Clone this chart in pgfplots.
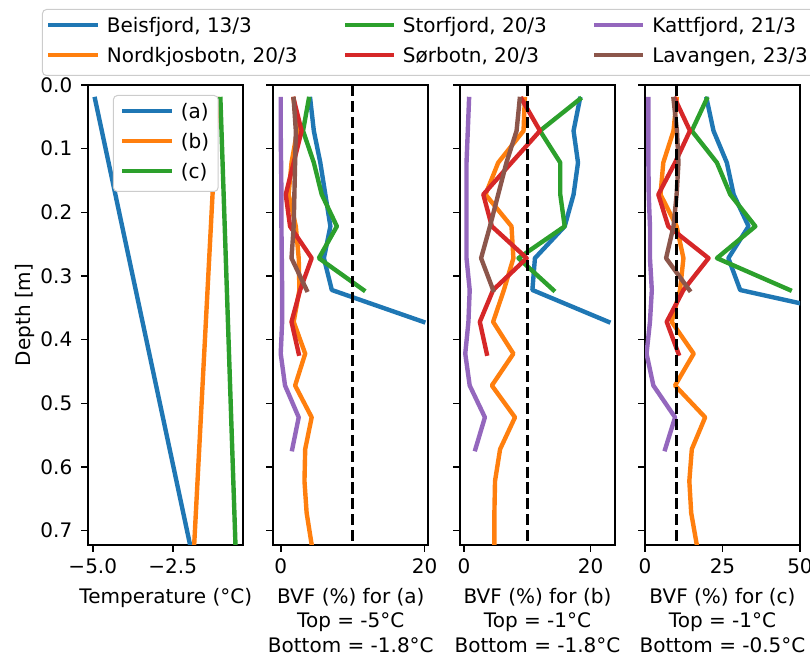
\documentclass[border=0pt]{standalone}
\usepackage{fontspec}
\setmainfont{DejaVu Sans}
\usepackage{pgfplots}
\pgfplotsset{compat=1.18}
\definecolor{c0}{HTML}{1F77B4}
\definecolor{c1}{HTML}{FF7F0E}
\definecolor{c2}{HTML}{2CA02C}
\definecolor{c3}{HTML}{D62728}
\definecolor{c4}{HTML}{9467BD}
\definecolor{c5}{HTML}{8C564B}
\pgfplotsset{
  panel/.style={
    scale only axis, width=77.5pt, height=230pt,
    anchor=south west,
    y dir=reverse, ymin=0, ymax=0.7225,
    ytick={0,0.1,0.2,0.3,0.4,0.5,0.6,0.7},
    yticklabels={},
    tick align=outside, xtick pos=left, ytick pos=left,
    major tick length=3.5pt,
    tick style={black, line width=0.8pt},
    axis line style={line width=0.8pt},
    xticklabel style={anchor=north, inner sep=0pt, yshift=-3pt},
    yticklabel style={anchor=east, inner sep=0pt, xshift=-4.3pt},
    every axis x label/.style={at={(axis description cs:0.5,0)}, anchor=north, inner sep=0pt, yshift=-21.4pt, align=center},
    every axis y label/.style={at={(axis description cs:-0.3761,0.5)}, rotate=90, anchor=base, inner sep=0pt},
    legend cell align=left,
  },
  dline/.style={line width=2.2pt, line join=round, line cap=rect},
  mylegend/.style={
    draw=black!20, line width=0.5pt, fill=white, rounded corners=2pt,
    inner xsep=3pt, inner ysep=4pt,
    nodes={inner sep=0pt, text height=7.6pt, text depth=2.4pt},
    row sep=5pt,
    /tikz/every odd column/.append style={column sep=4.5pt},
    /tikz/every even column/.append style={column sep=23.5pt},
  },
  legend image code/.code={\draw[#1] (0pt,1.2pt) -- (22.5pt,1.2pt);},
}
\begin{document}
\fontsize{10}{12.25}\selectfont
\begin{tikzpicture}
\path[use as bounding box] (0,0) rectangle (405pt,331pt);
% Panel 1: temperature
\begin{axis}[panel, at={(44.15pt,58.5pt)},
  xmin=-5.14, xmax=-0.295,
  xtick={-5,-2.5}, xticklabels={−5.0,−2.5},
  yticklabels={0.0,0.1,0.2,0.3,0.4,0.5,0.6,0.7},
  xlabel={Temperature (°C)}, ylabel={Depth [m]},
  legend style={mylegend, inner xsep=4.5pt, at={(axis description cs:0.5,1)}, anchor=north, yshift=-5pt},
]
\addplot[c0, dline] coordinates {(-4.93,0.022) (-1.96,0.722)};
\addlegendentry{(a)}
\addplot[c1, dline] coordinates {(-1.10,0.022) (-1.83,0.722)};
\addlegendentry{(b)}
\addplot[c2, dline] coordinates {(-1.01,0.022) (-0.54,0.722)};
\addlegendentry{(c)}
\end{axis}
% Panel 2: BVF (a)
\begin{axis}[panel, at={(136.65pt,58.5pt)},
  xmin=-1.03, xmax=20.5,
  xtick={0,20}, xticklabels={0,20},
  xlabel={BVF (\%) for (a)\\Top = -5°C\\Bottom = -1.8°C},
  legend columns=3,
  legend style={mylegend, at={(axis description cs:-1.4923,1.1652)}, anchor=north west},
]
\addlegendimage{c0, dline}\addlegendentry{Beisfjord, 13/3}
\addlegendimage{c2, dline}\addlegendentry{Storfjord, 20/3}
\addlegendimage{c4, dline}\addlegendentry{Kattfjord, 21/3}
\addlegendimage{c1, dline}\addlegendentry{Nordkjosbotn, 20/3}
\addlegendimage{c3, dline}\addlegendentry{Sørbotn, 20/3}
\addlegendimage{c5, dline}\addlegendentry{Lavangen, 23/3}
\addplot[c0, dline, forget plot] coordinates {(4.1,0.022) (4.6,0.072) (5.5,0.122) (6.2,0.172) (6.9,0.222) (6.0,0.272) (7.1,0.322) (19.8,0.372)};
\addplot[c1, dline, forget plot] coordinates {(1.8,0.022) (2.3,0.072) (1.5,0.122) (1.1,0.172) (2.1,0.222) (2.5,0.272) (2.6,0.322) (1.8,0.372) (3.4,0.422) (2.0,0.472) (4.3,0.522) (3.4,0.572) (3.3,0.622) (3.6,0.672) (4.3,0.722)};
\addplot[c2, dline, forget plot] coordinates {(3.9,0.022) (3.1,0.072) (4.6,0.122) (5.7,0.172) (7.8,0.222) (5.3,0.272) (11.5,0.322)};
\addplot[c3, dline, forget plot] coordinates {(1.8,0.022) (2.9,0.072) (1.8,0.122) (0.7,0.172) (1.3,0.222) (4.3,0.272) (2.7,0.322) (1.5,0.372) (2.5,0.422)};
\addplot[c4, dline, forget plot] coordinates {(0,0.022) (0,0.072) (0.05,0.122) (0.1,0.172) (0.1,0.222) (0.15,0.272) (0.2,0.322) (0.2,0.372) (0,0.422) (0.6,0.472) (2.5,0.522) (1.6,0.572)};
\addplot[c5, dline, forget plot] coordinates {(1.8,0.022) (2.1,0.072) (2.0,0.122) (1.9,0.172) (1.8,0.222) (1.5,0.272) (3.6,0.322)};
\addplot[black, line width=1.5pt, dash pattern=on 5.55pt off 2.4pt, forget plot] coordinates {(10,0) (10,0.7225)};
\end{axis}
% Panel 3: BVF (b)
\begin{axis}[panel, at={(230pt,58.5pt)},
  xmin=-0.63, xmax=23.84,
  xtick={0,20}, xticklabels={0,20},
  xlabel={BVF (\%) for (b)\\Top = -1°C\\Bottom = -1.8°C},
]
\addplot[c0, dline] coordinates {(18.3,0.022) (17.3,0.072) (18.0,0.122) (17.3,0.172) (15.9,0.222) (11.2,0.272) (10.8,0.322) (22.8,0.372)};
\addplot[c1, dline] coordinates {(9.6,0.022) (9.4,0.072) (5.4,0.122) (3.4,0.172) (7.5,0.222) (7.8,0.272) (6.3,0.322) (4.6,0.372) (7.8,0.422) (4.4,0.472) (8.05,0.522) (5.7,0.572) (4.9,0.622) (4.8,0.672) (4.8,0.722)};
\addplot[c2, dline] coordinates {(18.3,0.022) (12.0,0.072) (15.2,0.122) (15.2,0.172) (15.9,0.222) (8.6,0.272) (14.1,0.322)};
\addplot[c3, dline] coordinates {(9.1,0.022) (12.0,0.072) (7.5,0.122) (3.05,0.172) (4.4,0.222) (9.9,0.272) (4.6,0.322) (2.5,0.372) (3.6,0.422)};
\addplot[c4, dline] coordinates {(0.8,0.022) (0.6,0.072) (0.4,0.122) (0.4,0.172) (0.4,0.222) (0.4,0.272) (0.9,0.322) (0.7,0.372) (0.2,0.422) (0.9,0.472) (3.3,0.522) (1.8,0.572)};
\addplot[c5, dline] coordinates {(8.8,0.022) (8.3,0.072) (6.7,0.122) (5.4,0.172) (4.1,0.222) (2.7,0.272) (4.6,0.322)};
\addplot[black, line width=1.5pt, dash pattern=on 5.55pt off 2.4pt] coordinates {(10,0) (10,0.7225)};
\end{axis}
% Panel 4: BVF (c)
\begin{axis}[panel, at={(322.5pt,58.5pt)},
  xmin=0, xmax=50,
  xtick={0,25,50}, xticklabels={0,25,50},
  xlabel={BVF (\%) for (c)\\Top = -1°C\\Bottom = -0.5°C},
]
\addplot[c0, dline] coordinates {(19.9,0.022) (22.1,0.072) (26.4,0.122) (28.6,0.172) (33.4,0.222) (26.9,0.272) (30.7,0.322) (77,0.372)};
\addplot[c1, dline] coordinates {(10.2,0.022) (9.2,0.072) (5.9,0.122) (5.0,0.172) (10.2,0.222) (12.4,0.272) (11.3,0.322) (8.6,0.372) (15.7,0.422) (9.7,0.472) (19.4,0.522) (15.1,0.572) (14.3,0.622) (14.9,0.672) (16.7,0.722)};
\addplot[c2, dline] coordinates {(19.9,0.022) (15.1,0.072) (23.2,0.122) (27.5,0.172) (35.6,0.222) (23.2,0.272) (46.7,0.322)};
\addplot[c3, dline] coordinates {(9.7,0.022) (14.5,0.072) (9.7,0.122) (4.3,0.172) (7.5,0.222) (20.5,0.272) (12.4,0.322) (7.0,0.372) (10.8,0.422)};
\addplot[c4, dline] coordinates {(1.1,0.022) (1.1,0.072) (1.1,0.122) (1.2,0.172) (1.6,0.222) (1.6,0.272) (2.2,0.322) (1.6,0.372) (0.5,0.422) (2.7,0.472) (9.7,0.522) (6.5,0.572)};
\addplot[c5, dline] coordinates {(9.2,0.022) (10.3,0.072) (10.8,0.122) (10.2,0.172) (9.2,0.222) (6.8,0.272) (14.3,0.322)};
\addplot[black, line width=1.5pt, dash pattern=on 5.55pt off 2.4pt] coordinates {(10,0) (10,0.7225)};
\end{axis}
\end{tikzpicture}
\end{document}
